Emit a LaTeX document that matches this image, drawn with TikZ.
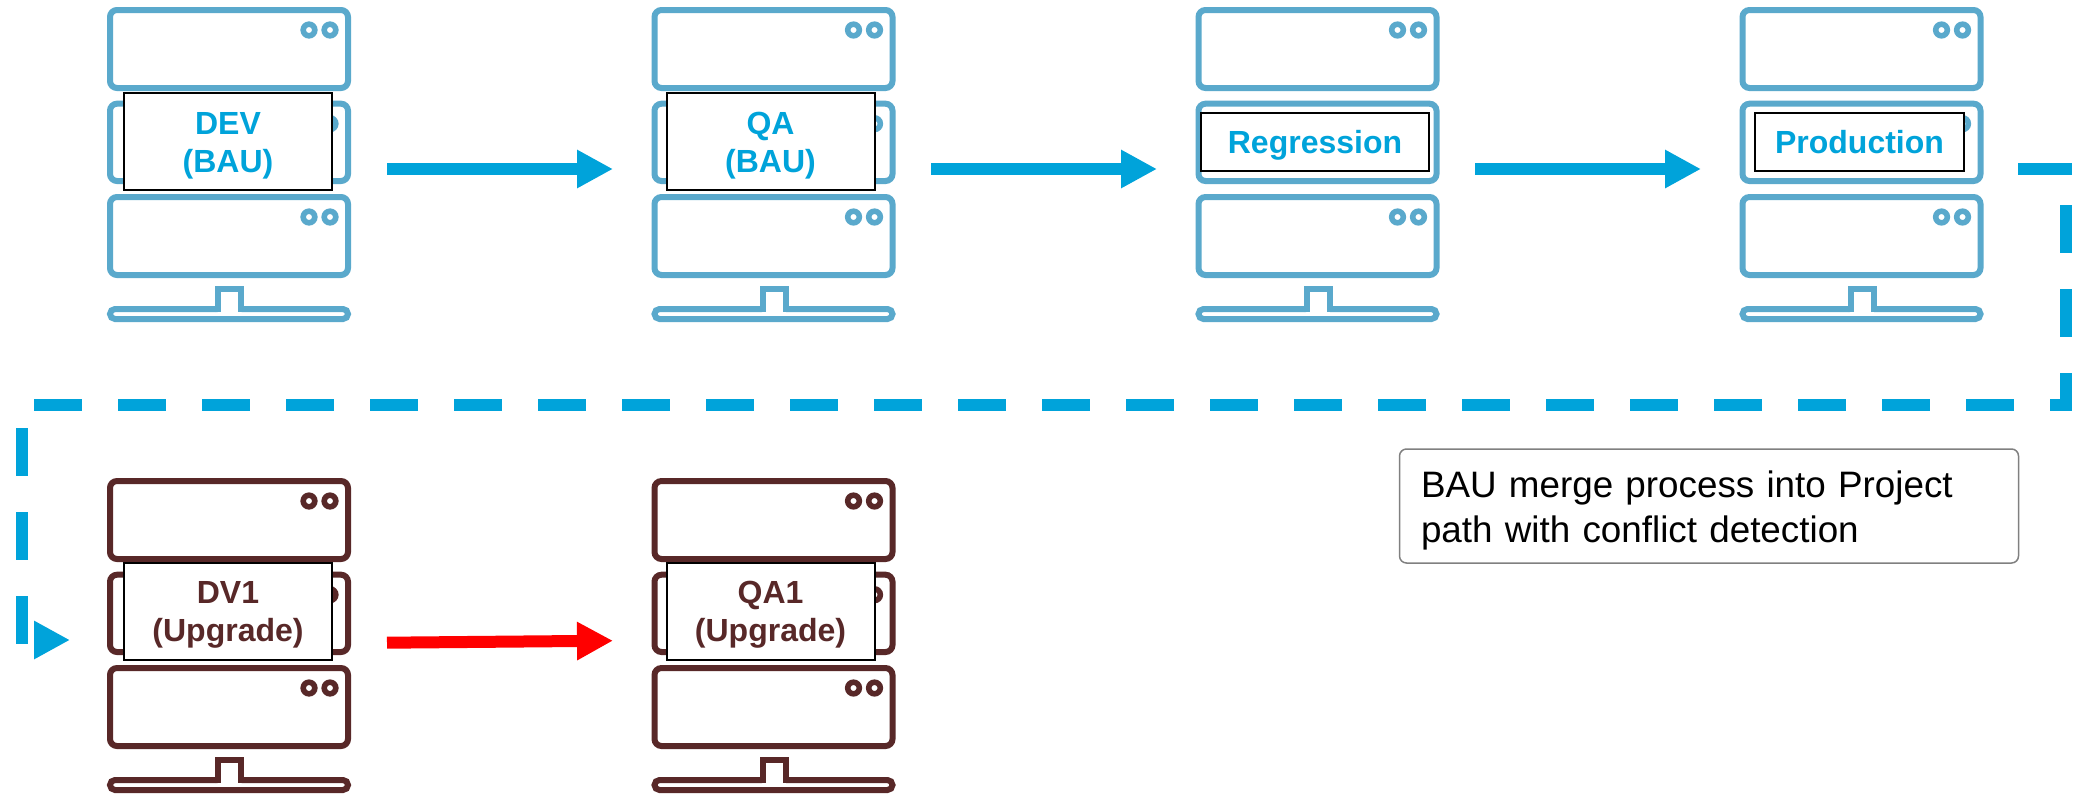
\documentclass[tikz,border=0pt]{standalone}
\usepackage{fontspec}
\setmainfont{Liberation Sans}
\usetikzlibrary{arrows.meta}
\definecolor{flowblue}{HTML}{00A3DA}
\definecolor{rackblue}{HTML}{5AA9CC}
\definecolor{rackbrown}{HTML}{582828}
\definecolor{flowred}{HTML}{FF0000}
\newcommand{\lifta}{\rule{0pt}{30pt}}
\newcommand{\liftb}{\rule[-7pt]{0pt}{38pt}}
\newcommand{\liftc}{\rule{0pt}{35pt}}
\tikzset{
  rackline/.style={line width=6pt, rounded corners=7pt},
  rackdot/.style={line width=5.6pt},
  tag/.style={draw=black, line width=2pt, fill=white, inner sep=0pt, align=center,
    font=\fontsize{32}{38}\selectfont\bfseries},
  bigtag/.style={tag, minimum width=208pt, minimum height=97pt},
  smalltag/.style={tag, minimum height=58pt},
  flow/.style={line width=12pt, flowblue, -{Triangle[length=36pt,width=36pt,sep=0pt]}},
  upflow/.style={flow, flowred},
  dashflow/.style={line width=12pt, flowblue, dash pattern=on 48pt off 36pt},
  plainflow/.style={line width=12pt, flowblue},
  note/.style={draw=black!50, line width=1.5pt, rounded corners=7pt, fill=white,
    minimum width=619pt, minimum height=114pt, inner sep=0pt, text width=576pt, align=left,
    font=\fontsize{36.8}{45}\selectfont}
}
\newcommand{\serverrack}[3]{%
  \begin{scope}[shift={(#1,#2)}, draw=#3]
    \foreach \ya/\yb in {10/88,103.7/181,197/275}{
      \draw[rackline] (110,\ya) rectangle (348,\yb);
      \draw[rackdot] (309,\ya+20) circle (5.8pt);
      \draw[rackdot] (330,\ya+20) circle (5.8pt);
    }
    \draw[line width=6pt, rounded corners=5pt]
      (217.5,309) -- (110,309) -- (110,319) -- (348,319) -- (348,309) -- (241.5,309);
    \draw[line width=6pt] (218,312) -- (218,289) -- (241,289) -- (241,312);
  \end{scope}}
\begin{document}
\begin{tikzpicture}[x=1pt,y=-1pt]
  \useasboundingbox (0,0) rectangle (2088,793);
  \fill[white] (0,0) rectangle (2088,793);
  % racks
  \serverrack{0}{0}{rackblue}
  \serverrack{544.5}{0}{rackblue}
  \serverrack{1088.5}{0}{rackblue}
  \serverrack{1632.5}{0}{rackblue}
  \serverrack{0}{471}{rackbrown}
  \serverrack{544.5}{471}{rackbrown}
  % labels
  \node[bigtag, text=flowblue] (dev) at (228,141.5) {\lifta DEV\\(BAU)};
  \node[bigtag, text=flowblue] (qa) at (770.5,141.5) {\lifta QA\\(BAU)};
  \node[smalltag, text=flowblue, minimum width=228pt] (reg) at (1315,141.5) {\liftb Regression};
  \node[smalltag, text=flowblue, minimum width=209pt] (prod) at (1859.5,141.5) {\liftb Production};
  \node[bigtag, text=rackbrown] (dv1) at (228,611) {\lifta DV1\\(Upgrade)};
  \node[bigtag, text=rackbrown] (qa1) at (770.5,611) {\lifta QA1\\(Upgrade)};
  \node[note] (mergenote) at (1709,506) {\liftc BAU merge process into Project\\path with conflict detection};
  % connector ends
  \coordinate (a1) at (387,169);   \coordinate (b1) at (613,169);
  \coordinate (a2) at (931,169);   \coordinate (b2) at (1157,169);
  \coordinate (a3) at (1475,169);  \coordinate (b3) at (1701,169);
  \coordinate (r1) at (387,642.7); \coordinate (r2) at (613,640.7);
  \coordinate (d1) at (2018,169);  \coordinate (d2) at (2072,169);
  \coordinate (d3) at (2066,205);  \coordinate (d4) at (2066,410);
  \coordinate (d5) at (34,404.5);  \coordinate (d6) at (2072,404.5);
  \coordinate (d7) at (22,428);    \coordinate (d8) at (22,646);
  \coordinate (e1) at (34,640);    \coordinate (e2) at (70,640);
  % connectors
  \draw[flow] (a1) -- (b1);
  \draw[flow] (a2) -- (b2);
  \draw[flow] (a3) -- (b3);
  \draw[upflow] (r1) -- (r2);
  \draw[plainflow] (d1) -- (d2);
  \draw[dashflow] (d3) -- (d4);
  \draw[dashflow] (d5) -- (d6);
  \draw[dashflow] (d7) -- (d8);
  \draw[flow] (e1) -- (e2);
\end{tikzpicture}
\end{document}
